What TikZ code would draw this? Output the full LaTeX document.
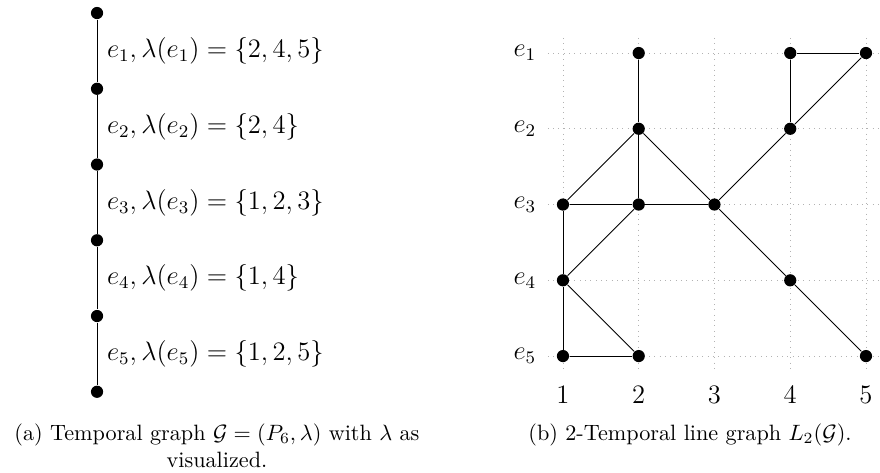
\documentclass[tikz,border=0pt]{standalone}
\usetikzlibrary{positioning}
\tikzset{
 vertex/.style={circle,fill,inner sep=0pt,minimum size=5.5pt},
 gridline/.style={dotted,gray!60},
 edgelabel/.style={font=\large,right=1pt},
 axislabel/.style={font=\large},
 subcap/.style={align=center,anchor=north,font=\normalsize}
}

\begin{document}
\begin{tikzpicture}
\useasboundingbox (0,0) rectangle (13.94,-7.49);
% (a) the temporal path
\begin{scope}[node distance=1.2cm,on grid]
\node[vertex] (u1) at (1.537,-0.206) {};
\node[vertex,below=of u1] (u2) {};
\node[vertex,below=of u2] (u3) {};
\node[vertex,below=of u3] (u4) {};
\node[vertex,below=of u4] (u5) {};
\node[vertex,below=of u5] (u6) {};
\end{scope}
\draw (u1) -- node[edgelabel] {$e_1, \lambda(e_1) = \{2,4,5\}$} (u2);
\draw (u2) -- node[edgelabel] {$e_2, \lambda(e_2) = \{2,4\}$} (u3);
\draw (u3) -- node[edgelabel] {$e_3, \lambda(e_3) = \{1,2,3\}$} (u4);
\draw (u4) -- node[edgelabel] {$e_4, \lambda(e_4) = \{1,4\}$} (u5);
\draw (u5) -- node[edgelabel] {$e_5, \lambda(e_5) = \{1,2,5\}$} (u6);
% (b) the line graph
\begin{scope}[x=1.2cm,y=-1.2cm,shift={(7.718cm,0.36cm)}]
\foreach \c in {1,...,5} \draw[gridline] (\c,0.8) -- (\c,5.2);
\foreach \r in {1,...,5} \draw[gridline] (0.8,\r) -- (5.2,\r);
\foreach \r in {1,...,5} \node[axislabel,left] (e\r) at (0.75,\r) {$e_\r$};
\foreach \c in {1,...,5} \node[axislabel,below] (t\c) at (\c,5.3) {$\c$};
\foreach \c/\r in {2/1,4/1,5/1,2/2,4/2,1/3,2/3,3/3,1/4,4/4,1/5,2/5,5/5}
  \node[vertex] (v\c\r) at (\c,\r) {};
\foreach \a/\b in {v21/v22,v41/v51,v41/v42,v51/v42,v22/v13,v22/v23,v22/v33,
  v42/v33,v13/v23,v23/v33,v13/v14,v23/v14,v33/v44,v44/v55,v14/v15,v14/v25,v15/v25}
  \draw (\a) -- (\b);
\end{scope}
% captions
\node[subcap] (capa) at (3.437,-6.59) {(a) Temporal graph $\mathcal{G}=(P_6,\lambda)$ with $\lambda$ as\\visualized.};
\node[subcap] (capb) at (10.93,-6.59) {(b) 2-Temporal line graph $L_2(\mathcal{G})$.};
\end{tikzpicture}
\end{document}
